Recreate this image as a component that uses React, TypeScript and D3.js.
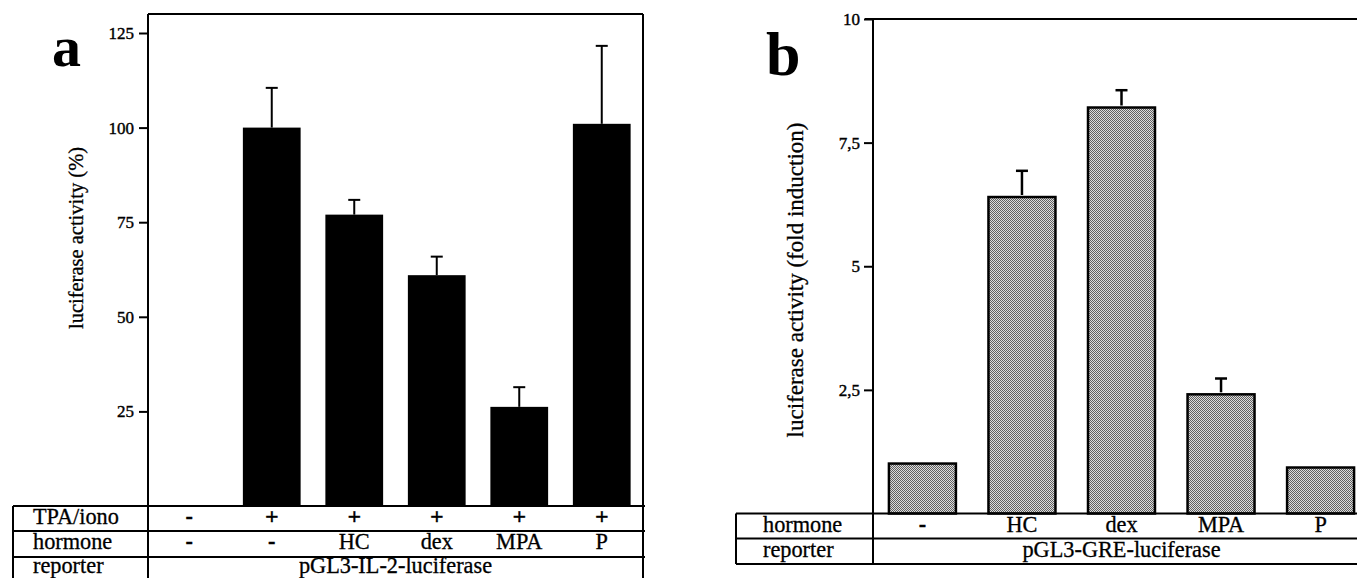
import { useEffect, useRef } from "react";
import * as d3 from "d3";

// panel a: IL-2 reporter
const tpaIono = ["-", "+", "+", "+", "+", "+"];
const hormoneA = ["-", "-", "HC", "dex", "MPA", "P"];
const valuesA = [null, 100, 77, 61, 26.2, 101];
const errorsA = [0, 10.5, 3.9, 4.9, 5.2, 20.6];
const ticksA = [25, 50, 75, 100, 125];

// panel b: GRE reporter
const hormoneB = ["-", "HC", "dex", "MPA", "P"];
const valuesB = [1.01, 6.4, 8.21, 2.41, 0.93];
const errorsB = [0, 0.53, 0.35, 0.32, 0];
const ticksB = [2.5, 5, 7.5, 10];

const width = 1357;
const height = 578;
const font = "Liberation Serif, DejaVu Serif, serif";
const cellFont = 22.3;

// layout of panel a
const aLeft = 148;
const aRight = 643;
const aTop = 14;
const aTableLeft = 13;
const aRows = [506, 531, 557, 583];
const aBase = [524, 549, 573];

// layout of panel b
const bLeft = 873;
const bRight = 1370;
const bTop = 19;
const bTableLeft = 736;
const bRows = [513.5, 538.5, 564];
const bBase = [531.5, 557];

const App = () => {
	const axisARef = useRef<SVGGElement>(null);
	const axisBRef = useRef<SVGGElement>(null);

	const xA = d3
		.scaleBand<number>()
		.domain(d3.range(hormoneA.length))
		.range([aLeft, aRight])
		.paddingInner(0.3)
		.paddingOuter(0.15);
	const yA = d3.scaleLinear().domain([0, 125]).range([aRows[0], 33]);

	const xB = d3
		.scaleBand<number>()
		.domain(d3.range(hormoneB.length))
		.range([bLeft, bRight])
		.paddingInner(0.327)
		.paddingOuter(0.16);
	const yB = d3.scaleLinear().domain([0, 10]).range([bRows[0], bTop]);

	useEffect(() => {
		const axisA = d3
			.axisLeft(yA)
			.tickValues(ticksA)
			.tickSize(9)
			.tickSizeOuter(0)
			.tickPadding(5)
			.tickFormat((d) => String(d));
		const axisB = d3
			.axisLeft(yB)
			.tickValues(ticksB)
			.tickSize(9)
			.tickSizeOuter(0)
			.tickPadding(4)
			.tickFormat((d) => String(d).replace(".", ","));

		[
			[axisARef.current, axisA],
			[axisBRef.current, axisB],
		].forEach(([node, axis]: any) => {
			const g = d3.select(node);
			g.call(axis);
			g.select(".domain").remove();
			g.selectAll(".tick line").attr("stroke", "#000").attr("stroke-width", 2);
			g.selectAll(".tick text")
				.attr("font-family", font)
				.attr("font-size", 17)
				.attr("fill", "#000")
				.attr("stroke", "#000")
				.attr("stroke-width", 0.4);
		});
	}, []);

	const cx = (x: d3.ScaleBand<number>, i: number) => x(i)! + x.bandwidth() / 2;

	return (
		<svg
			width={width}
			height={height}
			viewBox={`0 0 ${width} ${height}`}
			style={{ position: "absolute", left: 0, top: 0, background: "#fff", fontFamily: font }}
		>
			<defs>
				<pattern id="stipple" width={2} height={2} patternUnits="userSpaceOnUse">
					<rect width={2} height={2} fill="#dcdcdc" />
					<rect x={0} y={0} width={1} height={1} fill="#606060" />
					<rect x={1} y={1} width={1} height={1} fill="#606060" />
				</pattern>
			</defs>
			<rect width={width} height={height} fill="#fff" />

			{/* ---------- panel a ---------- */}
			<text x={52} y={66} fontSize={58} fontWeight="bold">
				a
			</text>
			<text
				transform={`translate(76,238) rotate(-90)`}
				textAnchor="middle"
				dominantBaseline="central"
				fontSize={20.5}
				stroke="#000"
				strokeWidth={0.3}
			>
				luciferase activity (%)
			</text>

			<g className="bars-a">
				{valuesA.map((v, i) =>
					v == null ? null : (
						<rect
							key={i}
							x={xA(i)}
							y={yA(v)}
							width={xA.bandwidth()}
							height={yA(0) - yA(v)}
							fill="#000"
						/>
					)
				)}
			</g>
			<g className="errors-a" stroke="#000" strokeWidth={2}>
				{valuesA.map((v, i) =>
					v == null || !errorsA[i] ? null : (
						<g key={i}>
							<line x1={cx(xA, i)} x2={cx(xA, i)} y1={yA(v)} y2={yA(v + errorsA[i])} />
							<line
								x1={cx(xA, i) - 6}
								x2={cx(xA, i) + 6}
								y1={yA(v + errorsA[i])}
								y2={yA(v + errorsA[i])}
							/>
						</g>
					)
				)}
			</g>

			<g ref={axisARef} transform={`translate(${aLeft},0)`} />

			{/* frame and table a */}
			<g stroke="#000" strokeWidth={2} fill="none">
				<line x1={aLeft} x2={aRight} y1={aTop} y2={aTop} />
				<line x1={aLeft} x2={aLeft} y1={aTop} y2={height + 5} />
				<line x1={aRight} x2={aRight} y1={aTop} y2={height + 5} />
				<line x1={aTableLeft} x2={aTableLeft} y1={aRows[0]} y2={height + 5} />
				{aRows.map((y) => (
					<line key={y} x1={aTableLeft} x2={aRight + 2} y1={y} y2={y} />
				))}
			</g>
			<g fontSize={cellFont} stroke="#000" strokeWidth={0.3}>
				<text x={33} y={aBase[0]}>TPA/iono</text>
				<text x={33} y={aBase[1]}>hormone</text>
				<text x={33} y={aBase[2]}>reporter</text>
				{tpaIono.map((s, i) => (
					<text
						key={i}
						x={cx(xA, i)}
						y={aBase[0]}
						textAnchor="middle"
						fontWeight="bold"
						fontSize={s === "+" ? 24 : cellFont}
					>
						{s}
					</text>
				))}
				{hormoneA.map((s, i) => (
					<text
						key={i}
						x={cx(xA, i)}
						y={aBase[1]}
						textAnchor="middle"
						fontWeight={s === "-" ? "bold" : "normal"}
					>
						{s}
					</text>
				))}
				<text x={(aLeft + aRight) / 2} y={aBase[2]} textAnchor="middle">
					pGL3-IL-2-luciferase
				</text>
			</g>

			{/* ---------- panel b ---------- */}
			<text x={766} y={75} fontSize={62} fontWeight="bold">
				b
			</text>
			<text
				transform={`translate(795,280) rotate(-90)`}
				textAnchor="middle"
				dominantBaseline="central"
				fontSize={23}
				stroke="#000"
				strokeWidth={0.3}
			>
				luciferase activity (fold induction)
			</text>

			<g className="bars-b">
				{valuesB.map((v, i) => (
					<rect
						key={i}
						x={xB(i)}
						y={yB(v)}
						width={xB.bandwidth()}
						height={yB(0) - yB(v)}
						fill="url(#stipple)"
						stroke="#000"
						strokeWidth={2.5}
					/>
				))}
			</g>
			<g className="errors-b" stroke="#000" strokeWidth={2.5}>
				{valuesB.map((v, i) =>
					!errorsB[i] ? null : (
						<g key={i}>
							<line x1={cx(xB, i)} x2={cx(xB, i)} y1={yB(v) - 2} y2={yB(v + errorsB[i])} />
							<line
								x1={cx(xB, i) - 6}
								x2={cx(xB, i) + 6}
								y1={yB(v + errorsB[i])}
								y2={yB(v + errorsB[i])}
							/>
						</g>
					)
				)}
			</g>

			<g ref={axisBRef} transform={`translate(${bLeft},0)`} />

			<g stroke="#000" strokeWidth={2} fill="none">
				<line x1={bLeft - 8} x2={width} y1={bTop} y2={bTop} />
				<line x1={bLeft} x2={bLeft} y1={bTop} y2={bRows[2]} />
				<line x1={bTableLeft} x2={bTableLeft} y1={bRows[0]} y2={bRows[2]} />
				{bRows.map((y) => (
					<line key={y} x1={bTableLeft} x2={width} y1={y} y2={y} />
				))}
			</g>
			<g fontSize={cellFont} stroke="#000" strokeWidth={0.3}>
				<text x={763} y={bBase[0]}>hormone</text>
				<text x={763} y={bBase[1]}>reporter</text>
				{hormoneB.map((s, i) => (
					<text
						key={i}
						x={cx(xB, i)}
						y={bBase[0]}
						textAnchor="middle"
						fontWeight={s === "-" ? "bold" : "normal"}
					>
						{s}
					</text>
				))}
				<text x={(bLeft + bRight) / 2} y={bBase[1]} textAnchor="middle">
					pGL3-GRE-luciferase
				</text>
			</g>
		</svg>
	);
};

export default App;
